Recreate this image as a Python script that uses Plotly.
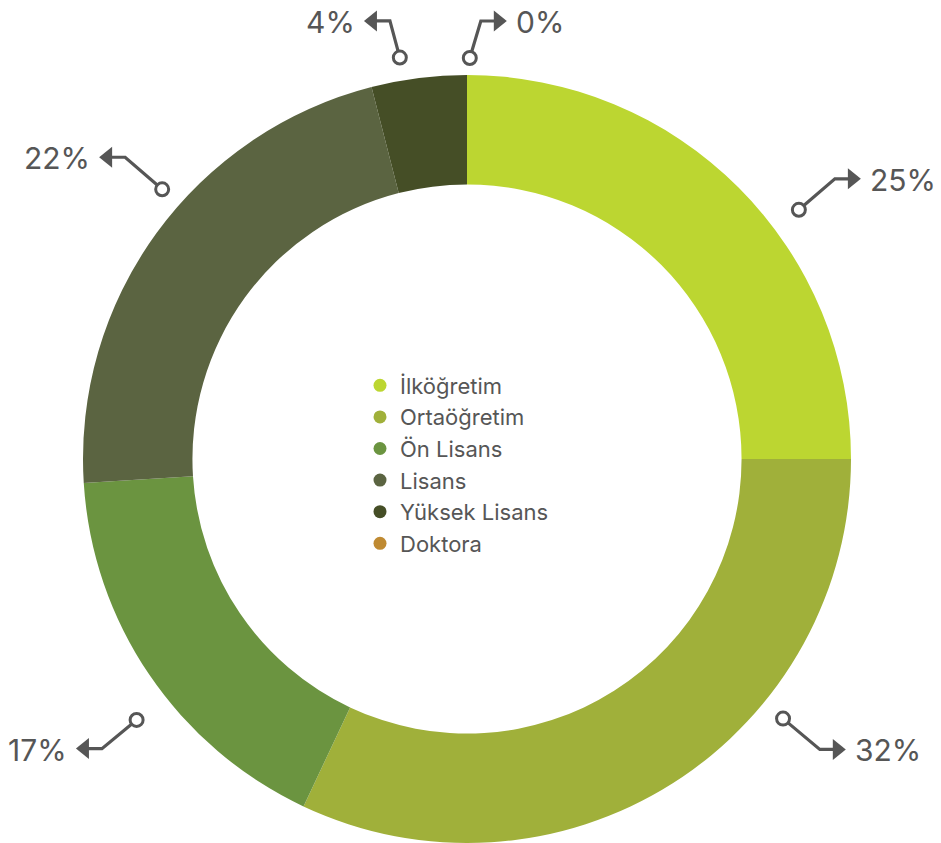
import math
import plotly.graph_objects as go

# ---- data ----
categories = ["İlköğretim", "Ortaöğretim", "Ön Lisans", "Lisans", "Yüksek Lisans", "Doktora"]
values = [25, 32, 17, 22, 4, 0]
colors = ["#BCD631", "#A0B03A", "#6B9440", "#5B6441", "#454E26", "#BF8A32"]

# ---- layout / style ----
W, H = 941, 843
OFF = 0                              # body margin is removed by post_script
CX, CY, R = 467, 459, 384            # pie centre / radius (page px)
TEXT = "#565656"
FONT = "Inter, Open Sans, sans-serif"
# callout anchors: angle (deg clockwise from top), radius (px)
callout_angles = [53.1, 129.4, 231.7, 311.5, 350.5, 0.4]
callout_radii = [415, 409, 421, 407, 407, 401]
# callout legs: angle and length
leg_angles = [49.3, 130, 230.4, 310.9, 344.9, 16.6]
leg_lengths = [47.5, 48, 45, 49, 38, 38.6]
RUN = 13
HEAD_L, HEAD_H = 13, 21
GAP = 8


def px(x):
    return (x - OFF) / W


def py(y):
    return (H - (y - OFF)) / H


fig = go.Figure()
fig.add_trace(go.Pie(
    labels=categories, values=values, hole=0.715, sort=False,
    direction="clockwise", rotation=0,
    marker=dict(colors=colors, line=dict(width=0)),
    textinfo="none", hoverinfo="label+percent", showlegend=False,
    domain=dict(x=[px(CX - R), px(CX + R)], y=[max(0, py(CY + R)), py(CY - R)]),
))

# legend entries with circular symbols
for name, c in zip(categories, colors):
    fig.add_trace(go.Scatter(
        x=[None], y=[None], mode="markers", name=name,
        marker=dict(size=13, color=c, symbol="circle"),
        hoverinfo="skip",
    ))

total = sum(values)
shapes = []
annotations = []
circles = []
for v, a, r, la, ll in zip(values, callout_angles, callout_radii, leg_angles, leg_lengths):
    pct = round(100 * v / total)
    t = math.radians(a)
    x0 = CX + r * math.sin(t)
    y0 = CY - r * math.cos(t)
    tl = math.radians(la)
    x1 = x0 + ll * math.sin(tl)
    y1 = y0 - ll * math.cos(tl)
    side = 1 if math.sin(tl) > 0 else -1
    x2 = x1 + side * RUN
    xt = x2 + side * HEAD_L
    shapes.append(dict(
        type="path", xref="paper", yref="paper",
        path=f"M {px(x0)},{py(y0)} L {px(x1)},{py(y1)} L {px(x2 + side)},{py(y1)}",
        line=dict(color=TEXT, width=3.2), fillcolor="rgba(0,0,0,0)",
    ))
    shapes.append(dict(
        type="path", xref="paper", yref="paper",
        path=(f"M {px(x2)},{py(y1 - HEAD_H / 2)} L {px(xt)},{py(y1)} "
              f"L {px(x2)},{py(y1 + HEAD_H / 2)} Z"),
        line=dict(color=TEXT, width=0), fillcolor=TEXT,
    ))
    cr = 6.5
    circles.append(dict(
        type="circle", xref="paper", yref="paper",
        x0=px(x0 - cr), x1=px(x0 + cr), y0=py(y0 + cr), y1=py(y0 - cr),
        line=dict(color=TEXT, width=3), fillcolor="white",
    ))
    annotations.append(dict(
        xref="paper", yref="paper", x=px(xt + side * GAP), y=py(y1 + 1),
        xanchor="left" if side > 0 else "right", yanchor="middle",
        text=f"{pct}%", showarrow=False, borderpad=0,
        font=dict(family=FONT, size=30, color=TEXT),
    ))

fig.update_layout(
    width=W, height=H,
    margin=dict(l=0, r=0, t=0, b=0),
    paper_bgcolor="white", plot_bgcolor="white",
    xaxis=dict(visible=False), yaxis=dict(visible=False),
    shapes=shapes + circles,
    annotations=annotations,
    showlegend=True,
    legend=dict(
        x=px(360), y=py(364.5), xanchor="left", yanchor="top",
        font=dict(family=FONT, size=22, color=TEXT),
        bgcolor="rgba(0,0,0,0)", itemclick=False, itemdoubleclick=False,
        tracegroupgap=0,
    ),
)

fig.write_html(
    "out.html",
    config={"displayModeBar": False},
    post_script="document.body.style.margin='0';document.body.style.overflow='hidden';",
)
